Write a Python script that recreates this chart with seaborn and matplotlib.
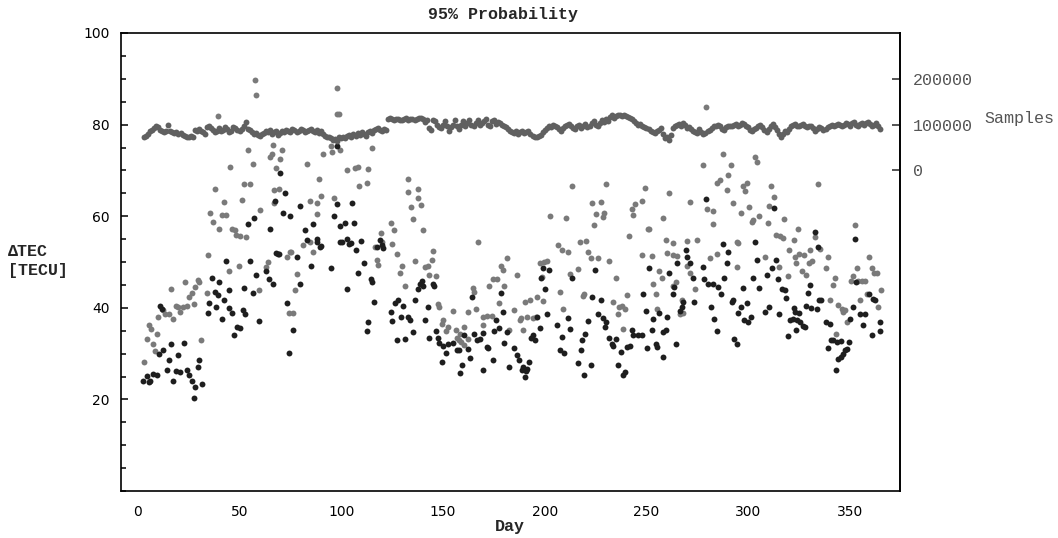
import matplotlib
matplotlib.use("Agg")
import matplotlib.pyplot as plt
import seaborn as sns
import numpy as np
from matplotlib.ticker import MultipleLocator

days = list(range(3, 366))
samples_k = [
    74, 76, 80, 85, 88, 92, 96, 95, 88, 86,
    84, 85, 100, 86, 83, 82, 84, 80, 81, 78,
    76, 74, 73, 75, 72, 88, 85, 90, 86, 84,
    80, 94, 96, 92, 88, 84, 86, 92, 85, 88,
    94, 90, 84, 86, 95, 92, 88, 86, 90, 98,
    105, 90, 88, 84, 80, 82, 78, 76, 80, 82,
    86, 84, 88, 80, 84, 86, 78, 82, 85, 84,
    88, 86, 84, 90, 88, 84, 86, 90, 88, 84,
    86, 88, 90, 86, 84, 88, 82, 86, 80, 76,
    74, 72, 70, 66, 68, 64, 72, 70, 74, 70,
    76, 78, 74, 80, 76, 82, 78, 84, 80, 76,
    84, 86, 82, 88, 90, 92, 88, 86, 90, 88,
    112, 114, 112, 110, 112, 113, 110, 111, 112, 114,
    110, 112, 113, 110, 112, 114, 115, 112, 106, 110,
    92, 89, 110, 107, 100, 95, 92, 100, 108, 98,
    85, 94, 100, 110, 96, 90, 100, 108, 96, 104,
    110, 100, 96, 104, 110, 100, 104, 108, 113, 100,
    98, 108, 110, 102, 106, 104, 100, 96, 94, 90,
    86, 84, 82, 86, 80, 84, 86, 82, 84, 86,
    80, 76, 74, 72, 76, 78, 84, 88, 92, 96,
    94, 100, 98, 94, 90, 86, 92, 96, 100, 102,
    96, 92, 90, 98, 100, 92, 96, 102, 94, 98,
    104, 108, 100, 96, 104, 110, 106, 112, 108, 116,
    120, 114, 118, 122, 120, 118, 122, 118, 116, 114,
    112, 108, 104, 100, 102, 98, 94, 92, 90, 86,
    84, 82, 85, 88, 92, 80, 70, 74, 66, 78,
    92, 96, 100, 102, 98, 104, 100, 92, 94, 90,
    86, 84, 82, 90, 84, 80, 82, 86, 88, 92,
    96, 98, 100, 96, 90, 88, 94, 96, 98, 96,
    100, 102, 98, 100, 104, 102, 96, 94, 88, 86,
    90, 92, 96, 100, 94, 88, 84, 90, 96, 102,
    94, 88, 80, 74, 80, 86, 84, 90, 96, 100,
    102, 98, 96, 100, 102, 96, 94, 98, 96, 92,
    86, 90, 94, 92, 88, 90, 94, 96, 100, 98,
    100, 102, 100, 96, 100, 104, 102, 98, 104, 106,
    100, 98, 102, 104, 100, 104, 106, 102, 98, 100,
    104, 96, 90,
]

# Dark points (lower series)
lo_day = [
    2.8, 4.4, 5.3, 6.1, 7.7, 9.3, 10.2, 11.0, 11.8, 12.6, 14.3, 15.1, 16.2, 17.2,
    18.8, 20.0, 20.8, 22.5, 24.4, 25.4, 26.5, 27.7, 28.2, 29.8, 30.1, 31.5,
    34.4, 35.1, 36.4, 38.0, 38.3, 39.3, 40.1, 41.3, 42.4, 43.4, 44.6, 45.0, 46.2,
    47.5, 48.7, 50.0, 51.6, 52.3, 52.8, 54.4, 55.2, 56.5, 57.2, 58.2, 59.6, 62.9,
    64.7, 65.0, 66.4, 67.5, 68.0, 69.1, 69.6, 70.0, 71.3, 72.4, 73.2, 74.4, 74.9,
    76.2, 78.1, 79.5, 79.8, 82.2, 83.1, 85.0, 86.3, 88.0, 88.3, 89.6, 90.1, 94.8,
    96.2, 97.8, 98.1, 99.4, 99.4, 100.3, 101.9, 102.7, 103.0, 104.0, 104.7, 105.2,
    106.3, 107.3, 108.0, 109.6, 111.2, 112.5, 113.2, 114.5, 115.0, 116.1, 117.4,
    119.1, 119.9, 120.7, 124.3, 125.1, 126.4, 127.6, 128.1, 129.2, 130.2, 131.3,
    133.0, 133.8, 135.1, 136.4, 137.9, 138.7, 139.5, 140.0, 141.3, 142.6, 143.3,
    144.9, 145.6, 146.4, 147.7, 148.2, 149.4, 150.2, 151.5, 152.6, 155.1, 156.7,
    157.9, 158.4, 159.5, 160.3, 162.5, 163.3, 164.4, 165.2, 166.6, 168.2, 169.5,
    169.8, 171.5, 172.3, 174.4, 175.1, 176.1, 177.7, 178.4, 179.3, 180.0, 181.3,
    182.6, 184.9, 186.2, 187.5, 188.7, 189.5, 190.3, 190.8, 191.5, 192.4, 193.1,
    194.1, 195.2, 196.4, 197.7, 198.0, 199.3, 200.1, 201.3, 202.3, 206.2, 207.5,
    208.3, 209.6, 211.3, 212.4, 213.2, 216.2, 217.8, 218.1, 219.4, 219.8, 221.1,
    222.5, 223.0, 224.7, 226.3, 227.5, 228.8, 229.6, 230.1, 231.6, 232.9, 233.7,
    235.0, 236.1, 237.4, 238.3, 239.4, 240.6, 241.9, 242.7, 243.5, 246.0, 247.6,
    248.1, 249.6, 250.1, 251.4, 252.5, 253.0, 254.6, 255.3, 256.3, 257.9, 258.3,
    259.6, 260.2, 261.2, 262.8, 263.5, 264.5, 265.1, 266.4, 267.3, 268.1, 269.4,
    269.7, 271.4, 272.7, 273.2, 277.6, 278.2, 279.5, 280.4, 281.5, 282.5, 283.2,
    284.5, 285.3, 286.4, 287.7, 288.2, 289.4, 290.2, 291.8, 292.6, 293.0, 294.3,
    295.1, 296.3, 297.6, 297.9, 299.5, 300.0, 301.3, 302.5, 303.3, 304.4, 305.3,
    308.2, 309.4, 310.2, 311.5, 312.6, 313.5, 314.4, 315.1, 316.4, 318.0, 318.4,
    319.7, 320.5, 321.8, 322.6, 323.0, 323.4, 324.1, 325.1, 325.4, 326.7, 327.9,
    328.4, 329.5, 330.3, 331.1, 332.8, 333.6, 334.4, 334.9, 335.6, 338.2, 339.4,
    340.1, 340.5, 341.9, 343.2, 343.5, 344.3, 345.5, 345.5, 346.4, 347.6, 348.4,
    349.7, 350.1, 351.4, 352.5, 353.0, 355.0, 356.3, 357.4, 359.5, 360.7, 361.5,
    362.3, 364.8, 364.8,
]
lo_tec = [
    24.0, 25.2, 23.9, 24.1, 25.6, 25.4, 30.0, 40.4, 39.7, 30.7, 26.4, 28.5, 32.1, 24.1,
    26.3, 29.8, 25.9, 32.4, 26.4, 25.4, 24.0, 20.3, 22.6, 27.0, 28.6, 23.4,
    38.9, 41.1, 46.6, 43.5, 40.2, 42.7, 45.6, 37.6, 41.8, 50.2, 40.0, 43.8, 38.9,
    34.1, 35.9, 35.6, 39.6, 44.3, 38.7, 58.3, 50.2, 43.2, 59.5, 47.1, 37.1, 48.0,
    46.2, 57.2, 45.1, 63.4, 51.9, 51.7, 51.8, 69.5, 60.6, 65.0, 41.1, 30.1, 60.0,
    35.2, 51.1, 62.2, 45.3, 57.0, 54.8, 49.1, 58.3, 55.1, 54.4, 53.3, 53.5, 48.6,
    60.0, 62.6, 75.4, 57.9, 54.4, 54.4, 58.6, 55.0, 44.0, 54.0, 54.2, 62.8,
    58.6, 52.7, 47.5, 54.6, 49.7, 34.9, 36.9, 46.2, 45.6, 41.3, 53.3,
    54.8, 53.7, 53.0, 39.1, 37.1, 41.0, 33.0, 41.6, 38.1, 40.5, 33.2,
    38.0, 37.4, 34.8, 41.8, 44.0, 45.3, 45.9, 44.8, 37.4, 40.2, 33.5,
    45.1, 44.7, 34.9, 33.5, 32.3, 28.1, 31.6, 30.1, 32.1, 32.4, 30.7,
    30.7, 25.7, 27.6, 34.0, 31.1, 29.0, 42.4, 34.2, 33.0, 33.2, 34.5,
    26.4, 31.4, 31.2, 28.5, 34.9, 37.4, 35.6, 43.2, 39.1, 32.4, 34.7,
    27.0, 31.3, 29.7, 28.5, 26.4, 27.0, 24.8, 26.1, 26.7, 28.1, 33.5,
    34.0, 33.0, 38.0, 35.6, 46.5, 48.6, 44.0, 38.7, 48.2, 36.2, 30.7,
    33.7, 30.1, 37.8, 35.4, 46.6, 27.9, 30.7, 32.9, 25.4, 34.2, 37.1,
    27.6, 42.4, 48.2, 38.6, 41.8, 37.8, 35.9, 36.9, 33.5, 32.1, 31.6,
    33.1, 27.6, 30.3, 25.4, 25.9, 31.4, 31.6, 35.1, 34.0, 34.0, 34.0,
    43.0, 39.3, 31.3, 48.6, 35.1, 37.6, 32.0, 31.4, 38.9, 34.7, 29.2,
    35.2, 38.0, 47.5, 43.0, 44.5, 32.1, 49.7, 39.4, 40.2, 41.3, 52.7,
    51.1, 49.7, 46.4, 41.3, 48.8, 46.2, 63.7, 45.3, 40.2, 45.3, 37.6,
    34.9, 44.5, 43.0, 53.9, 46.6, 49.7, 52.2, 41.3, 41.6, 33.2, 32.1,
    38.9, 40.2, 44.4, 37.3, 41.1, 36.9, 38.1, 46.4, 54.4, 50.5, 44.4,
    39.1, 47.1, 40.2, 48.6, 61.7, 50.5, 46.2, 38.6, 44.2, 43.8, 42.1,
    33.8, 37.4, 37.6, 40.0, 39.1, 35.2, 37.3, 38.9, 36.9, 36.0, 35.9,
    40.5, 43.2, 44.9, 40.0, 56.6, 39.8, 53.2, 41.6, 41.8, 36.9, 31.3,
    36.5, 32.9, 32.9, 26.5, 32.5, 28.9, 29.2, 32.7, 30.0, 30.7, 31.1,
    32.5, 37.6, 40.2, 55.1, 45.7, 38.7, 36.2, 38.7, 43.1, 34.0, 42.0,
    41.8, 36.9, 34.9,
]

# Grey points (upper series)
hi_day = [
    3.1, 4.4, 5.3, 6.4, 7.7, 8.5, 9.3, 9.7, 12.3, 13.4, 15.1, 16.4, 17.5, 18.8,
    20.0, 20.8, 22.1, 23.3, 24.4, 25.4, 26.5, 27.4, 28.2, 29.5, 30.3, 31.1, 34.2,
    34.7, 35.6, 37.2, 38.0, 39.6, 40.1, 41.3, 42.6, 43.4, 44.6, 45.1, 46.2, 47.8,
    48.2, 49.5, 50.0, 51.4, 52.3, 53.1, 54.4, 55.2, 56.4, 57.7, 58.2, 59.8, 60.1,
    63.1, 64.2, 65.0, 65.9, 66.3, 66.7, 67.0, 68.0, 69.3, 70.0, 71.0, 73.2, 74.5,
    74.9, 75.2, 76.2, 77.3, 78.1, 81.4, 83.1, 84.4, 84.4, 86.3, 88.0, 88.3, 89.3,
    89.9, 90.9, 94.8, 95.3, 96.2, 98.1, 98.0, 99.0, 99.4, 102.7, 106.8, 108.4,
    108.9, 112.5, 113.3, 115.0, 116.6, 117.4, 118.2, 119.4, 119.9, 124.5, 124.8,
    126.1, 127.6, 128.9, 129.7, 131.3, 132.7, 133.0, 134.3, 135.1, 136.3, 137.6,
    137.9, 139.2, 140.0, 141.2, 142.8, 143.3, 144.4, 145.0, 146.4, 147.4, 148.2,
    149.4, 150.2, 151.5, 152.6, 155.1, 156.4, 157.0, 158.0, 158.4, 158.7, 160.3,
    160.5, 162.3, 162.5, 164.6, 165.2, 166.2, 167.4, 169.5, 169.8, 171.5, 172.8,
    173.9, 174.7, 176.4, 177.7, 178.5, 179.7, 180.0, 181.3, 182.6, 184.9, 186.2,
    187.9, 188.2, 189.5, 190.3, 191.1, 192.8, 194.4, 195.7, 196.4, 197.7, 198.5,
    199.0, 199.6, 201.3, 202.6, 206.4, 207.5, 208.3, 208.8, 210.3, 211.6, 212.4,
    213.2, 216.2, 217.3, 218.6, 219.5, 220.3, 221.4, 222.5, 223.0, 224.3, 225.2,
    226.3, 227.5, 228.4, 229.1, 230.1, 231.6, 233.4, 235.0, 236.1, 236.6, 237.8,
    238.3, 239.4, 240.2, 241.5, 242.7, 243.5, 244.3, 247.6, 247.9, 249.2, 250.6,
    251.4, 252.5, 253.3, 254.6, 255.0, 256.3, 257.4, 258.3, 259.6, 260.2, 261.2,
    262.8, 263.2, 263.2, 264.5, 265.1, 266.4, 267.3, 268.1, 270.0, 270.0, 271.4,
    271.4, 273.8, 274.6, 277.6, 279.2, 279.9, 281.2, 282.5, 282.8, 284.5, 284.8,
    286.1, 287.4, 289.4, 290.2, 291.5, 292.6, 294.3, 294.3, 295.1, 296.4, 297.6,
    298.4, 299.2, 300.4, 301.7, 302.5, 303.3, 304.4, 305.3, 308.2, 309.5, 310.2,
    311.3, 312.6, 313.5, 315.3, 315.6, 317.2, 317.7, 319.7, 320.2, 322.6, 323.0,
    323.4, 324.6, 325.1, 326.2, 327.4, 328.4, 330.0, 330.3, 331.5, 332.6, 334.4,
    335.3, 338.2, 339.3, 340.1, 341.5, 342.6, 343.1, 344.3, 345.9, 346.8, 347.6,
    348.4, 350.4, 351.4, 352.5, 353.3, 354.1, 355.0, 355.8, 357.4, 358.2, 359.5,
    360.7, 361.8, 363.1, 364.0, 365.1,
]
hi_tec = [
    28.1, 33.1, 36.3, 35.4, 32.0, 30.5, 34.3, 38.1, 39.6, 38.6, 38.6, 44.1, 37.6, 40.3,
    40.2, 39.1, 40.2, 45.6, 40.5, 42.4, 43.2, 40.9, 44.6, 46.0, 45.6, 33.0, 43.2,
    51.6, 60.6, 58.8, 66.0, 81.8, 57.1, 60.3, 63.0, 60.3, 48.0, 70.8, 57.1, 57.0,
    55.9, 49.1, 55.7, 63.5, 67.0, 55.5, 74.5, 67.0, 71.4, 89.8, 86.5, 43.8, 61.4,
    48.8, 49.9, 73.0, 73.5, 75.6, 65.7, 62.8, 70.6, 65.9, 72.4, 74.5, 51.1, 38.9,
    52.2, 52.1, 38.9, 43.8, 47.3, 53.7, 71.4, 63.4, 54.4, 52.2, 62.8, 60.5, 68.1,
    64.4, 73.6, 75.4, 74.1, 63.9, 88.0, 82.3, 82.3, 74.5, 70.1, 70.5, 70.8,
    66.5, 67.2, 70.3, 74.9, 53.3, 50.5, 49.4, 56.4, 54.4, 58.6, 53.9,
    57.0, 51.7, 47.6, 49.2, 44.7, 65.3, 68.1, 61.9, 59.4, 50.2, 65.9,
    63.9, 62.4, 57.0, 48.9, 49.2, 47.1, 50.5, 52.4, 46.9, 40.9, 40.2,
    36.5, 37.3, 34.9, 35.8, 39.3, 35.2, 33.5, 33.0, 34.3, 32.5, 35.9,
    31.9, 33.2, 39.1, 44.3, 43.5, 39.8, 54.4, 38.1, 36.2, 38.3, 44.7,
    38.3, 46.2, 46.3, 41.0, 49.2, 48.2, 44.7, 50.8, 35.2, 39.6, 47.1,
    37.3, 37.8, 35.2, 41.3, 38.1, 41.8, 37.8, 38.1, 42.4, 49.8, 46.7,
    41.4, 50.0, 50.2, 60.0, 53.7, 43.5, 52.6, 39.8, 59.7, 52.2, 47.3,
    66.5, 48.4, 54.4, 42.5, 43.0, 54.6, 52.2, 50.8, 62.8, 58.1, 60.5,
    50.8, 63.0, 59.9, 60.6, 67.0, 50.2, 41.3, 46.4, 38.7, 40.2, 40.5,
    35.4, 39.8, 42.7, 55.7, 61.5, 60.3, 62.7, 51.5, 63.4, 66.2, 57.2,
    57.1, 51.3, 45.3, 43.0, 39.8, 48.0, 46.6, 59.5, 54.9, 51.9, 65.0,
    51.5, 54.2, 44.7, 45.6, 51.3, 38.7, 41.6, 38.9, 49.1, 54.6, 47.5,
    63.0, 44.0, 54.8, 71.2, 83.8, 61.5, 50.8, 61.1, 58.4, 51.7, 67.2,
    67.8, 73.6, 65.7, 68.9, 71.1, 62.8, 54.4, 48.9, 54.2, 60.8, 66.5,
    65.6, 67.2, 61.9, 58.8, 59.2, 73.0, 71.9, 60.0, 51.1, 58.6, 62.2,
    66.5, 64.3, 55.9, 48.9, 55.7, 55.2, 59.4, 46.9, 52.7, 54.9, 51.1,
    49.7, 57.2, 51.7, 48.1, 51.5, 47.1, 49.8, 52.6, 50.2, 55.5, 67.0,
    52.9, 48.6, 51.1, 41.6, 44.9, 46.6, 34.3, 40.6, 39.8, 39.1, 39.5,
    36.9, 45.9, 46.9, 58.1, 48.6, 45.9, 41.6, 45.9, 45.9, 43.1, 51.0,
    48.6, 47.5, 47.5, 40.2, 43.8,
]

sns.set_style("white")
plt.rcParams["font.family"] = ["DejaVu Sans"]
mono = ["Liberation Mono", "DejaVu Sans Mono"]

W, H = 1058, 538
fig = plt.figure(figsize=(W / 100, H / 100), dpi=100)
ax = fig.add_axes([120.5 / W, 1 - 491 / H, (900 - 120.5) / W, (491 - 33) / H])

sns.scatterplot(x=hi_day, y=hi_tec, ax=ax, color="#7a7a7a", s=18, linewidth=0)
sns.scatterplot(x=lo_day, y=lo_tec, ax=ax, color="#1e1e1e", s=18, linewidth=0)

ax.set_xlim(-8.5, 374.6)
ax.set_ylim(0, 100)
ax.xaxis.set_major_locator(MultipleLocator(50))
ax.xaxis.set_minor_locator(MultipleLocator(10))
ax.set_yticks([20, 40, 60, 80, 100])
ax.yaxis.set_minor_locator(MultipleLocator(5))
ax.tick_params(which="both", direction="in", top=False, right=False,
               labelsize=10, colors="black")
ax.tick_params(axis="x", which="major", length=5, width=1.1, pad=10)
ax.tick_params(axis="x", which="minor", length=3, width=1.1)
ax.tick_params(axis="y", which="major", length=5, width=1.1, pad=8)
ax.tick_params(axis="y", which="minor", length=3.3, width=1.1)
for sp in ax.spines.values():
    sp.set_color("black")
    sp.set_linewidth(1.2)

# secondary axis for the sample counts
ax2 = ax.twinx()
samples = np.array(samples_k) * 1000
sns.scatterplot(x=days, y=samples, ax=ax2, color="#606060", s=18, linewidth=0)
ax2.set_ylim(-700000, 300000)
ax2.set_yticks([0, 100000, 200000])
ax2.tick_params(axis="y", direction="in", length=6, width=1.1, pad=9,
                labelsize=12, labelcolor="#555555")
for lab in ax2.get_yticklabels():
    lab.set_family(mono)
for name, sp in ax2.spines.items():
    sp.set_visible(name == "right")
ax2.spines["right"].set_color("black")
ax2.spines["right"].set_linewidth(1.2)
ax2.set_ylabel("")
ax.set_xlabel("")
ax.set_ylabel("")

fig.text(503 / W, 1 - 14 / H, "95% Probability", ha="center", va="center",
         family=mono, weight="bold", size=12)
fig.text(510 / W, 1 - 527 / H, "Day", ha="center", va="center",
         family=mono, weight="bold", size=12)
fig.text(8 / W, 1 - 261 / H, "\u0394TEC\n[TECU]", ha="left", va="center",
         family=mono, weight="bold", size=12, linespacing=1.3)
fig.text(984 / W, 1 - 119 / H, "Samples", ha="left", va="center",
         family=mono, size=12, color="#555555")

fig.savefig("out.png", dpi=100)
